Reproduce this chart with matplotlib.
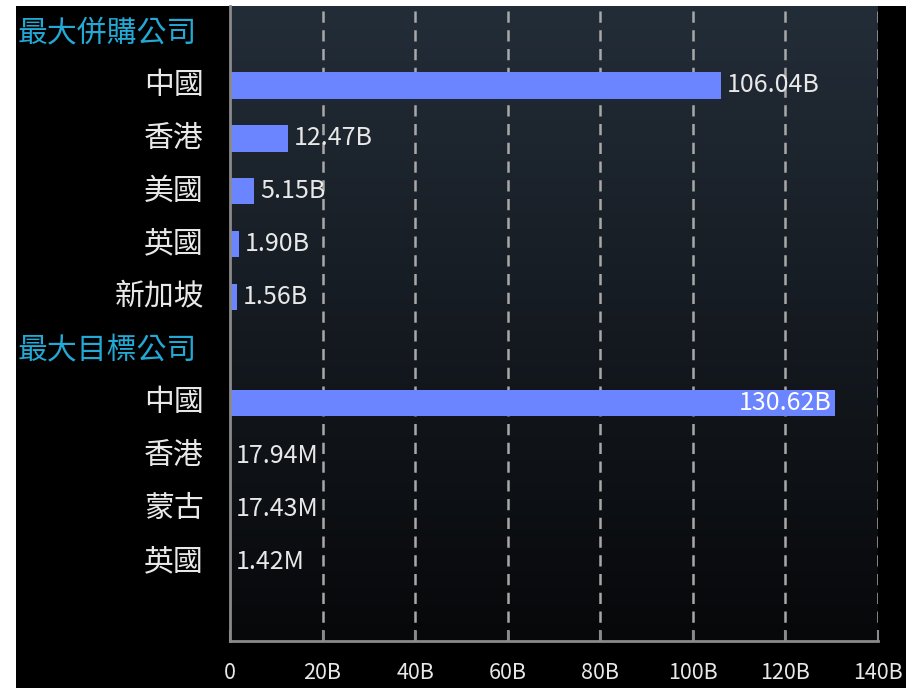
import matplotlib.pyplot as plt
import matplotlib.transforms as mtransforms
from matplotlib.patches import Rectangle
import numpy as np

plt.rcParams['font.family'] = ['Noto Sans CJK TC', 'DejaVu Sans']

# data (values in billions)
header_buyer = '最大併購公司'
header_target = '最大目標公司'
buyer_countries = ['中國', '香港', '美國', '英國', '新加坡']
buyer_values = [106.04, 12.47, 5.15, 1.90, 1.56]
buyer_labels = ['106.04B', '12.47B', '5.15B', '1.90B', '1.56B']
target_countries = ['中國', '香港', '蒙古', '英國']
target_values = [130.62, 0.01794, 0.01743, 0.00142]
target_labels = ['130.62B', '17.94M', '17.43M', '1.42M']
xticks = [0, 20, 40, 60, 80, 100, 120, 140]
xtick_labels = ['0', '20B', '40B', '60B', '80B', '100B', '120B', '140B']

bar_color = '#6b84ff'
text_color = '#e8e8e8'
head_color = '#22a9d6'

fig = plt.figure(figsize=(9.15, 6.88), dpi=100, facecolor='white')
fig.patches.append(Rectangle((16 / 915, 0), (906 - 16) / 915, 1 - 6 / 688,
                             transform=fig.transFigure, facecolor='black',
                             edgecolor='none', zorder=-5))

ax = fig.add_axes([230 / 915, 1 - 641 / 688, (878 - 230) / 915, (641 - 6) / 688])
ax.set_facecolor('black')

# rows: header, buyers, header, targets
rows = [header_buyer] + buyer_countries + [header_target] + target_countries
is_header = [True] + [False] * len(buyer_countries) + [True] + [False] * len(target_countries)
values = [None] + buyer_values + [None] + target_values
vlabels = [None] + buyer_labels + [None] + target_labels
ypos = np.arange(len(rows))

# gradient background
grad = np.linspace(0, 1, 256).reshape(-1, 1)
top = np.array([0x23, 0x2d, 0x38]) / 255
bot = np.array([0x07, 0x08, 0x0a]) / 255
img = top[None, None, :] * (1 - grad[:, :, None]) + bot[None, None, :] * grad[:, :, None]
ax.imshow(img, extent=[0, 1, 0, 1], transform=ax.transAxes, aspect='auto', zorder=0)

for x in xticks[1:]:
    ax.axvline(x, color='#a8a8a8', lw=1.8, ls=(0, (4.5, 3)), zorder=1)

label_trans = mtransforms.blended_transform_factory(fig.transFigure, ax.transData)
for y, name, hd, v, vl in zip(ypos, rows, is_header, values, vlabels):
    if hd:
        ax.text(18 / 915, y, name, transform=label_trans, ha='left', va='center',
                color=head_color, fontsize=21.5)
        continue
    ax.text(204 / 915, y, name, transform=label_trans, ha='right', va='center',
            color=text_color, fontsize=21.5)
    ax.barh(y, v, height=0.5, color=bar_color, zorder=2)
    if v > 125:
        ax.text(v - 0.6, y, vl, ha='right', va='center', color='white', fontsize=18, zorder=3)
    else:
        ax.text(v + 1.3, y, vl, ha='left', va='center', color=text_color, fontsize=18, zorder=3)

ax.set_xlim(0, 140)
ax.set_ylim(len(rows) + 0.5, -0.5)

for s in ['top', 'right']:
    ax.spines[s].set_visible(False)
for s in ['left', 'bottom']:
    ax.spines[s].set_color('#8a8a8a')
    ax.spines[s].set_linewidth(2)

ax.set_yticks([])
ax.set_xticks(xticks)
ax.set_xticklabels(xtick_labels, color=text_color, fontsize=15.5)
ax.tick_params(axis='x', direction='in', length=8, color='#8a8a8a', width=1.5, pad=15)

fig.savefig('out.png', dpi=100, facecolor='white')
